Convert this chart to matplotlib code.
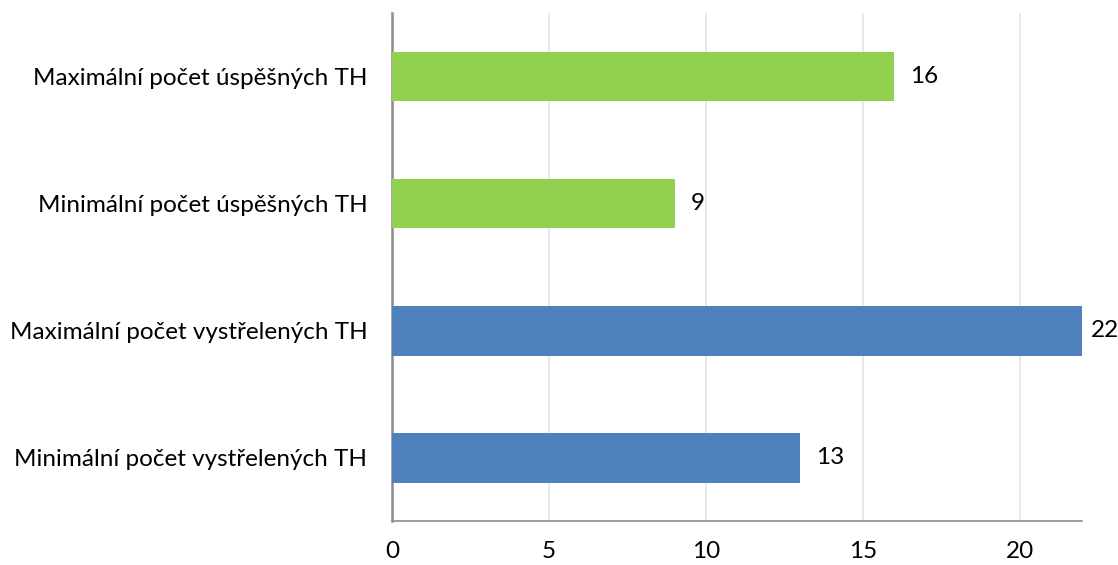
import numpy as np
import matplotlib.pyplot as plt

plt.rcParams['font.family'] = ['Lato', 'DejaVu Sans']

categories = ["Minimální počet vystřelených TH",
              "Maximální počet vystřelených TH",
              "Minimální počet úspěšných TH",
              "Maximální počet úspěšných TH"]
values = [13, 22, 9, 16]
colors = ["#4F81BD", "#4F81BD", "#92D050", "#92D050"]

fig = plt.figure(figsize=(11.18, 5.65), dpi=100)
ax = fig.add_axes([0.351, 0.077, 0.617, 0.9])

y = np.arange(len(categories))
bars = ax.barh(y, values, height=0.39, color=colors, zorder=3)

# value labels, kept inside the figure for the longest bar
for b, v in zip(bars, values):
    ax.text(min(v + 0.5, 22.28), b.get_y() + b.get_height() / 2, str(v),
            va="center", ha="left", fontsize=17.5, color="black")

ax.set_xlim(0, 22)
ax.set_ylim(-0.5, 3.5)
ax.set_xticks([0, 5, 10, 15, 20])
ax.set_yticks(y)
ax.set_yticklabels(categories)
ax.tick_params(axis="both", length=0, labelsize=17.5, colors="black")
ax.tick_params(axis="x", pad=14)
ax.tick_params(axis="y", pad=18)
ax.grid(axis="x", color="#DCE6F0", linewidth=1.2, zorder=0)

for side in ["top", "right"]:
    ax.spines[side].set_visible(False)
ax.spines["left"].set_color("#8C8C8C")
ax.spines["left"].set_linewidth(1.8)
ax.spines["bottom"].set_color("#8C8C8C")
ax.spines["bottom"].set_linewidth(1.2)

fig.savefig("out.png", dpi=100)
